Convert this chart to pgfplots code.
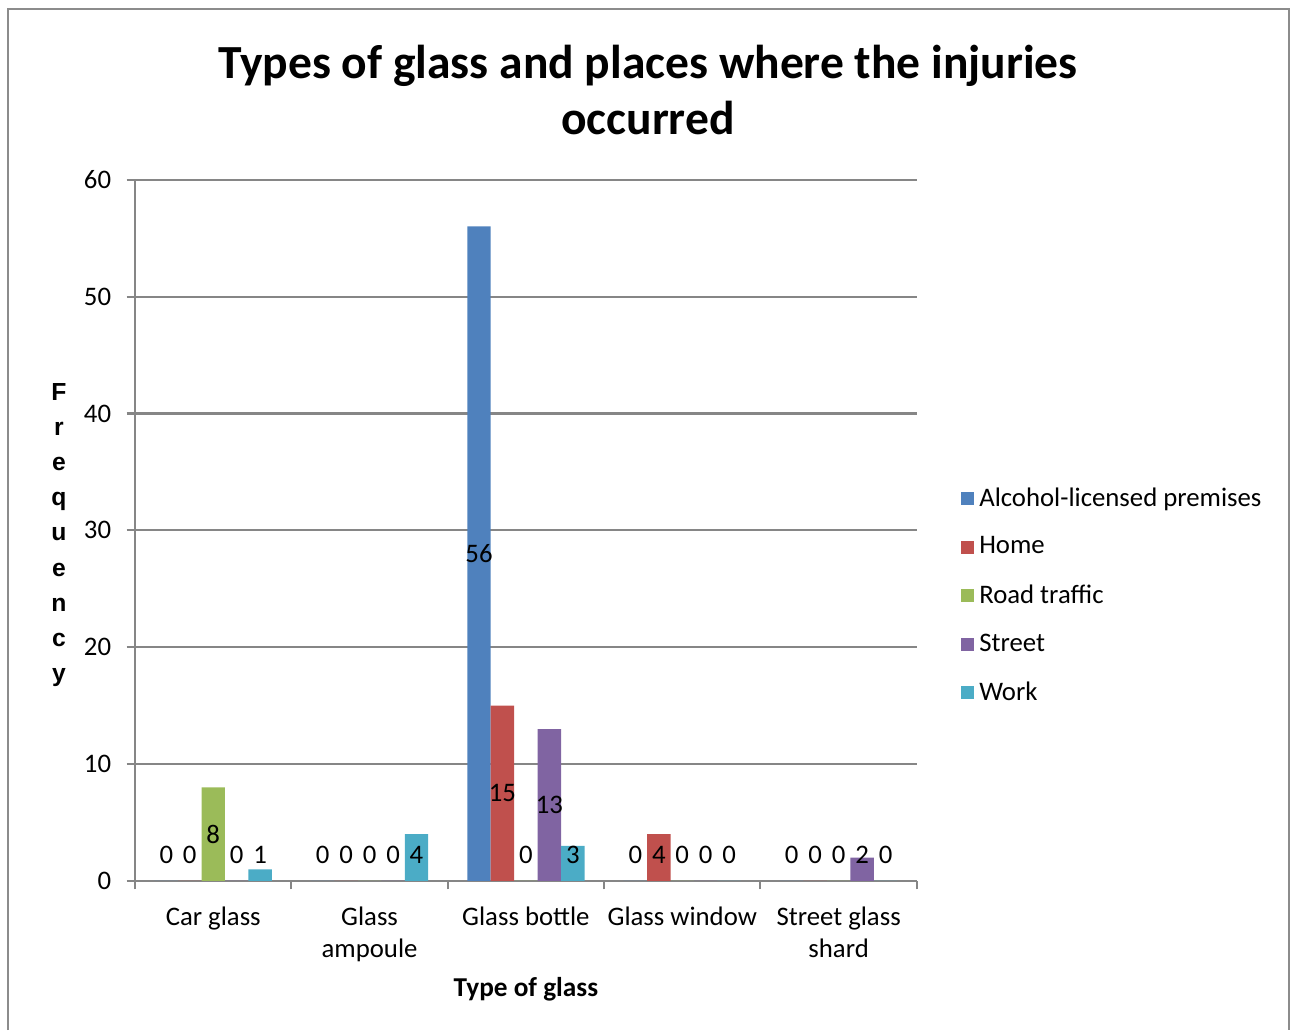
\documentclass[border=0pt]{standalone}
\usepackage{fontspec}
\setmainfont{Carlito}
\newfontfamily\arialfont{Liberation Sans}
\usepackage{pgfplots}
\pgfplotsset{compat=1.18}
\definecolor{c1}{HTML}{4F81BD}
\definecolor{c2}{HTML}{C0504D}
\definecolor{c3}{HTML}{9BBB59}
\definecolor{c4}{HTML}{8064A2}
\definecolor{c5}{HTML}{4BACC6}
\definecolor{axgray}{HTML}{868686}
\definecolor{framegray}{HTML}{8C8C8C}
\begin{document}
\begin{tikzpicture}
\useasboundingbox (-52pt,-57.4pt) rectangle (447pt,339.2pt);
\draw[framegray, line width=0.9pt] (-48.9pt,-57.4pt) -- (-48.9pt,335.7pt) -- (444.3pt,335.7pt) -- (444.3pt,-57.4pt);
\begin{axis}[
  at={(0pt,0pt)}, anchor=south west,
  scale only axis, width=301pt, height=270pt,
  xmin=-0.5, xmax=4.5, ymin=0, ymax=60,
  ybar, bar width=0.15,
  axis x line*=bottom, axis y line*=left,
  axis line style={draw=axgray, line width=0.8pt},
  ymajorgrids, grid style={axgray, line width=0.8pt},
  ytick={0,10,...,60},
  xtick={-0.5,0.5,...,4.5}, xticklabels={},
  extra x ticks={0,1,2,3,4},
  extra x tick labels={Car glass,{Glass\\ampoule},Glass bottle,Glass window,{Street glass\\shard}},
  extra x tick style={major tick length=0pt, grid=none},
  tick align=outside, major tick length=3.2pt,
  tick style={axgray, line width=0.8pt},
  /pgf/number format/assume math mode=true,
  ticklabel style={font=\fontsize{10.3}{12.5}\selectfont, text=black},
  yticklabel style={xshift=-2.5pt},
  xticklabel style={align=center, yshift=-6.4pt},
  nodes near coords,
  visualization depends on={rawy \as \rawy},
  nodes near coords style={anchor=center, font=\fontsize{10.3}{12}\selectfont, text=black,
     yshift={(max(\rawy/2,2.2)-\rawy)*4.5pt}},
  legend style={at={(1.056,0.4066)}, anchor=west, draw=none, fill=none,
     font=\fontsize{10.3}{12}\selectfont, row sep=6.3pt, inner sep=0pt},
  legend cell align=left,
  legend image code/.code={\fill[#1] (0pt,-2.5pt) rectangle (5pt,2.5pt);},
]
\addplot[bar shift=-0.3, fill=c1, draw=none] coordinates {(0,0) (1,0) (2,56) (3,0) (4,0)};
\addlegendentry{Alcohol-licensed premises}
\addplot[bar shift=-0.15, fill=c2, draw=none] coordinates {(0,0) (1,0) (2,15) (3,4) (4,0)};
\addlegendentry{Home}
\addplot[bar shift=0, fill=c3, draw=none] coordinates {(0,8) (1,0) (2,0) (3,0) (4,0)};
\addlegendentry{Road traffic}
\addplot[bar shift=0.15, fill=c4, draw=none] coordinates {(0,0) (1,0) (2,13) (3,0) (4,2)};
\addlegendentry{Street}
\addplot[bar shift=0.3, fill=c5, draw=none] coordinates {(0,1) (1,4) (2,3) (3,0) (4,0)};
\addlegendentry{Work}
\end{axis}
\node[font=\fontsize{18.3}{21.6}\selectfont\bfseries, align=center] at (197.5pt,304.5pt) {Types of glass and places where the injuries\\occurred};
\node[font=\arialfont\fontsize{9.5}{13.5}\selectfont\bfseries, align=center] at (-29.3pt,133.2pt) {F\\r\\e\\q\\u\\e\\n\\c\\y};
\node[font=\fontsize{10.5}{12}\selectfont\bfseries] at (150.5pt,-41.6pt) {Type of glass};
\end{tikzpicture}
\end{document}
